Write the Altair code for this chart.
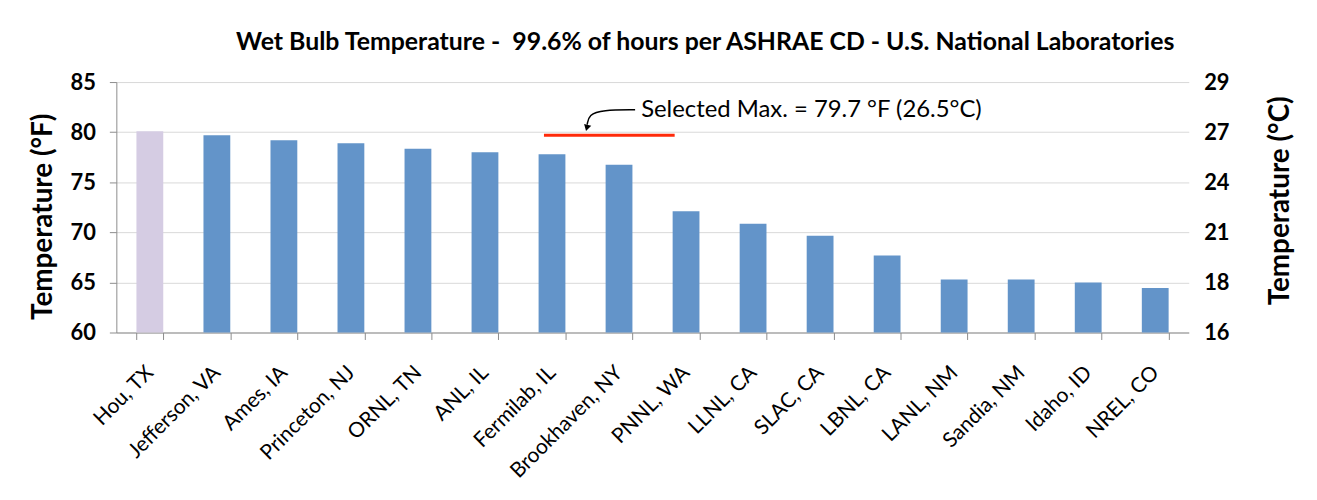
import altair as alt
import pandas as pd

# ---- data ----
sites = ["Hou, TX", "Jefferson, VA", "Ames, IA", "Princeton, NJ", "ORNL, TN", "ANL, IL",
         "Fermilab, IL", "Brookhaven, NY", "PNNL, WA", "LLNL, CA", "SLAC, CA", "LBNL, CA",
         "LANL, NM", "Sandia, NM", "Idaho, ID", "NREL, CO"]
wet_bulb_f = [80.1, 79.7, 79.2, 78.9, 78.35, 78.0, 77.8, 76.75, 72.1, 70.85, 69.65, 67.7,
              65.3, 65.3, 65.0, 64.45]
groups = ["reference"] + ["lab"] * 15

f_ticks = [60, 65, 70, 75, 80, 85]

# annotation (x in category-index units, y in °F)
selected_max = [79.7]
sel_x_start = [6.38]
sel_x_end = [8.33]
arrow_x = [7.74, 7.25, 7.05, 7.025]
arrow_y = [82.24, 82.22, 81.75, 80.75]
arrow_head_x = [7.02]
arrow_head_y = [80.42]
label_x = [7.83]
label_y = [82.18]
label_text = ["Selected Max. = 79.7 °F (26.5°C)"]

TITLE = "Wet Bulb Temperature -\u00a0 99.6% of hours per ASHRAE CD - U.S. National Laboratories"

FONT = "Lato"
BLUE = "#6394C9"
LAVENDER = "#D5CCE3"
AXIS_GRAY = "#8C8C8C"

df = pd.DataFrame({"site": sites, "temp": wet_bulb_f, "group": groups})

left_axis = alt.Axis(values=f_ticks, title="Temperature (°F)", titleFont=FONT,
                     titleFontSize=28, titleFontWeight="bold", titleColor="black",
                     titlePadding=13, titleY=135,
                     labelFont=FONT, labelFontSize=22, labelFontWeight="bold",
                     labelColor="black", labelPadding=14, tickSize=7, tickColor=AXIS_GRAY,
                     domainColor=AXIS_GRAY, grid=True, gridColor="#D9D9D9")

right_axis = alt.Axis(values=f_ticks, orient="right", title="Temperature (°C)",
                      labelExpr="format((datum.value - 32) / 1.8, '.0f')",
                      titleFont=FONT, titleFontSize=28, titleFontWeight="bold",
                      titleColor="black", titleAngle=-90, titleBaseline="top",
                      titlePadding=38, titleY=119,
                      labelFont=FONT, labelFontSize=22, labelFontWeight="bold",
                      labelColor="black", labelPadding=15, ticks=False, domain=False,
                      grid=False)

y_scale = alt.Scale(domain=[60, 85], nice=False, zero=False)

bars = alt.Chart(df).mark_bar().encode(
    x=alt.X("site:N", sort=sites,
            scale=alt.Scale(paddingInner=0.6, paddingOuter=0.3),
            axis=alt.Axis(title=None, labelAngle=-45, labelAlign="right",
                          labelBaseline="middle", labelFont=FONT, labelFontSize=21,
                          labelColor="black", labelPadding=30, tickBand="extent",
                          tickSize=7, tickColor=AXIS_GRAY, domainColor=AXIS_GRAY,
                          grid=False)),
    y=alt.Y("temp:Q", scale=y_scale, axis=left_axis),
    y2=alt.datum(60),
    color=alt.Color("group:N", scale=alt.Scale(domain=["reference", "lab"],
                                               range=[LAVENDER, BLUE]), legend=None),
)

x_idx = alt.Scale(domain=[0, 16], nice=False, zero=False)

rule_df = pd.DataFrame({"x": sel_x_start, "x2": sel_x_end, "y": selected_max})
rule = alt.Chart(rule_df).mark_rule(color="#FF2A0A", strokeWidth=3).encode(
    x=alt.X("x:Q", scale=x_idx, axis=None),
    x2="x2:Q",
    y=alt.Y("y:Q", scale=y_scale, axis=right_axis),
)

arrow_df = pd.DataFrame({"x": arrow_x, "y": arrow_y, "o": list(range(len(arrow_x)))})
arrow = alt.Chart(arrow_df).mark_line(color="black", strokeWidth=1.5,
                                      interpolate="basis").encode(
    x=alt.X("x:Q", scale=x_idx, axis=None),
    y=alt.Y("y:Q", scale=y_scale, axis=right_axis),
    order="o:Q",
)

head_df = pd.DataFrame({"x": arrow_head_x, "y": arrow_head_y})
head = alt.Chart(head_df).mark_point(shape="triangle-down", filled=True, color="black",
                                     size=55, angle=15, opacity=1).encode(
    x=alt.X("x:Q", scale=x_idx, axis=None),
    y=alt.Y("y:Q", scale=y_scale, axis=right_axis),
)

text_df = pd.DataFrame({"x": label_x, "y": label_y, "t": label_text})
text = alt.Chart(text_df).mark_text(align="left", baseline="middle", font=FONT,
                                    fontSize=24, color="black").encode(
    x=alt.X("x:Q", scale=x_idx, axis=None),
    y=alt.Y("y:Q", scale=y_scale, axis=right_axis),
    text="t:N",
)

annot = alt.layer(rule, arrow, head, text)

chart = alt.layer(bars, annot).resolve_scale(x="independent", y="shared").resolve_axis(
    y="independent"
).properties(
    width=1079, height=252,
    autosize=alt.AutoSizeParams(type="none"),
    padding={"left": 109, "top": 73, "right": 121, "bottom": 167},
    title=alt.TitleParams(TITLE, font=FONT, fontSize=25, fontWeight="bold",
                          color="black", anchor="middle", dx=53, offset=16),
).configure_view(stroke=None)

chart.save("out.html", embed_options={"renderer": "svg", "actions": False})
